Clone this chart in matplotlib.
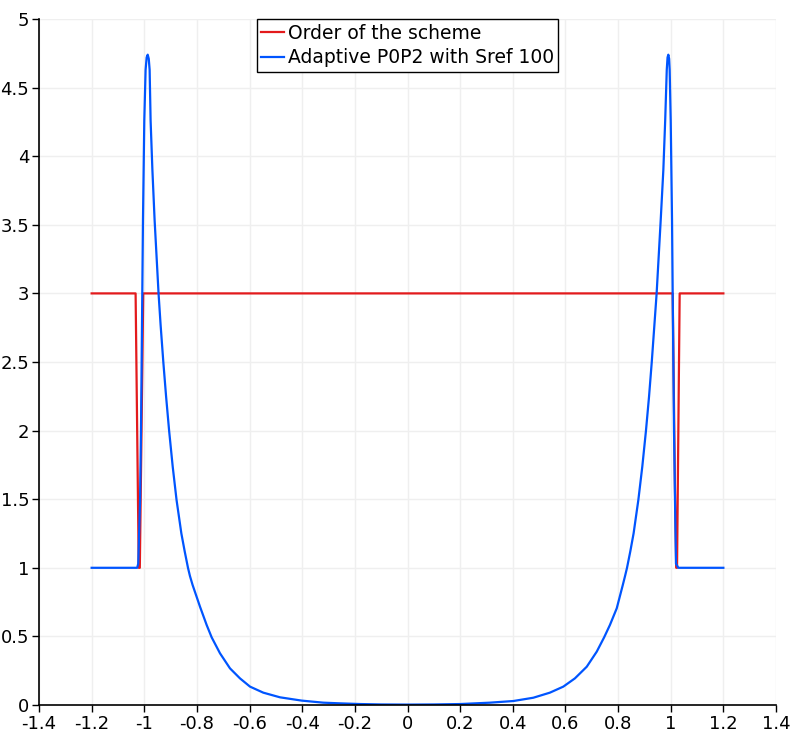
import matplotlib
matplotlib.use("Agg")
import matplotlib.pyplot as plt

# values
order_x = [-1.2, -1.033, -1.021, -1.017, -1.004, 1.0075, 1.016, 1.021, 1.024, 1.034, 1.2]
order_y = [3, 3, 1, 1, 3, 3, 1.6, 1, 1, 3, 3]

p0p2_x = [-1.2, -1.027, -1.023, -1.016, -1.0125, -1.0076, -1.005, -1.0, -0.995,
          -0.991, -0.987, -0.983, -0.9797, -0.976, -0.9692, -0.9608, -0.9458,
          -0.938, -0.9277, -0.9171, -0.9057, -0.892, -0.8774, -0.8592, -0.8465,
          -0.834, -0.8265, -0.8165, -0.7884, -0.763, -0.744, -0.7124, -0.6744,
          -0.6364, -0.5984, -0.548, -0.4845, -0.402, -0.32, -0.256, -0.18, -0.1, 0.0,
          0.1, 0.2, 0.313, 0.402, 0.478, 0.541, 0.592, 0.636, 0.681, 0.719,
          0.747, 0.769, 0.795, 0.818, 0.8265, 0.834, 0.8465, 0.859, 0.877, 0.892,
          0.906, 0.9176, 0.928, 0.938, 0.9465, 0.962, 0.972, 0.979, 0.985, 0.988,
          0.991, 0.994, 0.996, 1.0, 1.005, 1.0075, 1.0125, 1.017, 1.020, 1.029, 1.2]
p0p2_y = [1.0, 1.0, 1.03, 1.494, 2.0, 3.0, 3.535, 4.26, 4.63,
          4.72, 4.74, 4.71, 4.63, 4.26, 3.9, 3.535, 3.0,
          2.77, 2.5, 2.247, 2.0, 1.737, 1.494, 1.251, 1.12,
          1.0, 0.94, 0.875, 0.717, 0.583, 0.493, 0.377, 0.267,
          0.194, 0.134, 0.090, 0.056, 0.032, 0.017, 0.012, 0.007, 0.004, 0.003,
          0.004, 0.007, 0.017, 0.029, 0.053, 0.090, 0.134, 0.194, 0.279, 0.389,
          0.493, 0.583, 0.705, 0.875, 0.94, 1.0, 1.12, 1.251, 1.494, 1.737,
          2.0, 2.247, 2.5, 2.77, 3.0, 3.535, 3.9, 4.26, 4.63, 4.72,
          4.74, 4.71, 4.63, 4.26, 3.535, 3.0, 2.0, 1.4, 1.03, 1.0, 1.0]

xticks = [-1.4, -1.2, -1, -0.8, -0.6, -0.4, -0.2, 0, 0.2, 0.4, 0.6, 0.8, 1, 1.2, 1.4]
xlabels = ["-1.4", "-1.2", "-1", "-0.8", "-0.6", "-0.4", "-0.2", "0",
           "0.2", "0.4", "0.6", "0.8", "1", "1.2", "1.4"]
yticks = [0, 0.5, 1, 1.5, 2, 2.5, 3, 3.5, 4, 4.5, 5]
ylabels = ["0", "0.5", "1", "1.5", "2", "2.5", "3", "3.5", "4", "4.5", "5"]

plt.rcParams["font.family"] = "DejaVu Sans"
plt.rcParams["axes.unicode_minus"] = False

fig = plt.figure(figsize=(7.96, 7.39), dpi=100)
ax = fig.add_axes([39 / 796, 34 / 739, 737 / 796, 686 / 739])

ax.plot(order_x, order_y, color="#e31a1c", linewidth=1.6, label="Order of the scheme")
ax.plot(p0p2_x, p0p2_y, color="#0055ff", linewidth=1.6, label="Adaptive P0P2 with Sref 100")

ax.set_xlim(-1.4, 1.4)
ax.set_ylim(0, 5)
ax.set_xticks(xticks)
ax.set_xticklabels(xlabels)
ax.set_yticks(yticks)
ax.set_yticklabels(ylabels)
ax.tick_params(direction="out", length=5, width=1, labelsize=13, pad=2)
ax.grid(True, color="#efefef", linewidth=1)
ax.set_axisbelow(True)
ax.spines["top"].set_visible(False)
ax.spines["right"].set_visible(False)
ax.spines["left"].set_linewidth(1.2)
ax.spines["bottom"].set_linewidth(1.2)

leg = ax.legend(loc="upper center", bbox_to_anchor=(0.5, 1.0), borderaxespad=0,
                fontsize=13.5, handlelength=1.2, handletextpad=0.2,
                labelspacing=0.3, borderpad=0.25, fancybox=False, framealpha=1)
leg.get_frame().set_edgecolor("black")
leg.get_frame().set_linewidth(1)

fig.savefig("out.png", dpi=100)
